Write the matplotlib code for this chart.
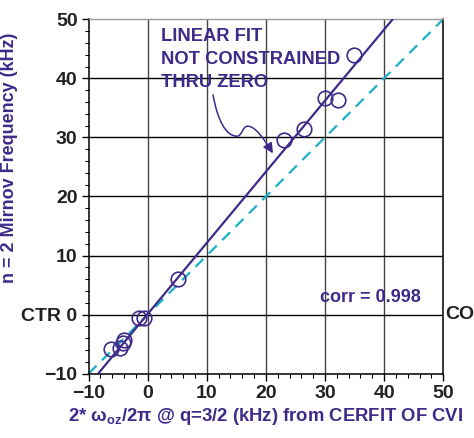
import matplotlib.pyplot as plt
import numpy as np
from matplotlib.path import Path
from matplotlib.patches import FancyArrowPatch

plt.rcParams['font.family'] = ['Liberation Sans', 'DejaVu Sans']
plt.rcParams['font.weight'] = 'bold'
plt.rcParams['mathtext.fontset'] = 'custom'
plt.rcParams['mathtext.rm'] = 'Liberation Sans:bold'
plt.rcParams['mathtext.it'] = 'Liberation Sans:bold'
plt.rcParams['mathtext.bf'] = 'Liberation Sans:bold'

PURPLE = '#3f2a8a'
CYAN = '#1ab0c9'

# CERFIT rotation frequency vs measured n=2 Mirnov frequency (kHz)
cerfit_freq = [34.9, 30.0, 32.2, 26.5, 23.0, 5.1, -1.5, -0.6, -4.0, -4.15, -4.7, -6.2]
mirnov_freq = [43.9, 36.6, 36.4, 31.5, 29.5, 6.0, -0.6, -0.6, -4.3, -4.85, -5.6, -5.9]

# unconstrained linear fit (slope, offset) and its correlation
fit_slope = 1.204
fit_offset = 0.1
corr = 0.998

x_ticks = [-10, 0, 10, 20, 30, 40, 50]
y_ticks = [-10, 0, 10, 20, 30, 40, 50]
y_ticklabels = ['\u221210', 'CTR 0', '10', '20', '30', '40', '50']
x_ticklabels = ['\u221210', '0', '10', '20', '30', '40', '50']

fig = plt.figure(figsize=(4.74, 4.38), dpi=100)
ax = fig.add_axes([0.187, 0.147, 0.748, 0.809])

ax.set_xlim(-10, 50)
ax.set_ylim(-10, 50)

# grid
for v in x_ticks[1:-1]:
    ax.axvline(v, color='#444444', lw=1.0, zorder=1)
for v in y_ticks[1:-1]:
    ax.axhline(v, color='black', lw=1.0, zorder=1)

# y = x reference
ref = np.array([-10, 50])
ax.plot(ref, ref, color=CYAN, lw=1.6, ls=(0, (5, 3.5)), zorder=2)

# fit line
xf = np.array([-12, 52])
ax.plot(xf, fit_slope * xf + fit_offset, color=PURPLE, lw=1.6, zorder=3)

ax.plot(cerfit_freq, mirnov_freq, 'o', mfc='none', mec=PURPLE, ms=10.5, mew=1.2,
        zorder=4, clip_on=False)

ax.set_xticks(x_ticks)
ax.set_xticklabels(x_ticklabels)
ax.set_yticks(y_ticks)
ax.set_yticklabels(y_ticklabels)
ax.set_xticks(np.arange(-10, 51, 2), minor=True)
ax.set_yticks(np.arange(-10, 51, 2), minor=True)
ax.tick_params(which='major', direction='out', length=5, width=1, labelsize=14,
               pad=3, colors='black')
ax.tick_params(which='minor', direction='out', length=3, width=0.8)
for lab in ax.get_xticklabels() + ax.get_yticklabels():
    lab.set_fontweight('bold')
    lab.set_color('#222222')

for s in ['left', 'bottom', 'right']:
    ax.spines[s].set_color('black')
    ax.spines[s].set_linewidth(1.1)
ax.spines['top'].set_color('#999999')
ax.spines['top'].set_linewidth(1.0)

ax.set_xlabel(r'2* ω$_{\mathbf{oz}}$/2π @ q=3/2 (kHz) from CERFIT OF CVI',
              color=PURPLE, fontsize=13.3, fontweight='bold', labelpad=3)
ax.set_ylabel('n = 2 Mirnov Frequency (kHz)', color=PURPLE, fontsize=13,
              fontweight='bold')
ax.yaxis.set_label_coords(-0.2, 0.61)

ax.text(1.005, 0, 'CO', transform=ax.get_yaxis_transform(), ha='left', va='center',
        fontsize=14, fontweight='bold', color='#222222', clip_on=False)

ax.text(2.2, 48.5, 'LINEAR FIT\nNOT CONSTRAINED\nTHRU ZERO', color=PURPLE,
        fontsize=13.2, fontweight='bold', ha='left', va='top', linespacing=1.45,
        zorder=5)
ax.text(37.6, 2.9, 'corr = %.3f' % corr, color=PURPLE, fontsize=13,
        fontweight='bold', ha='center', va='center')

# wavy pointer from the label to the fit line
verts = [(11.05, 37.2), (11.8, 33.0), (13.2, 30.2), (15.1, 30.2),
         (16.0, 30.2), (16.0, 31.9), (16.9, 31.9),
         (18.3, 31.9), (19.8, 29.5), (21.2, 27.3)]
codes = [Path.MOVETO] + [Path.CURVE4] * 9
arrow = FancyArrowPatch(path=Path(verts, codes), arrowstyle='-|>,head_length=6,head_width=3',
                        color=PURPLE, lw=1.1, zorder=5)
ax.add_patch(arrow)

fig.savefig('out.png', dpi=100)
